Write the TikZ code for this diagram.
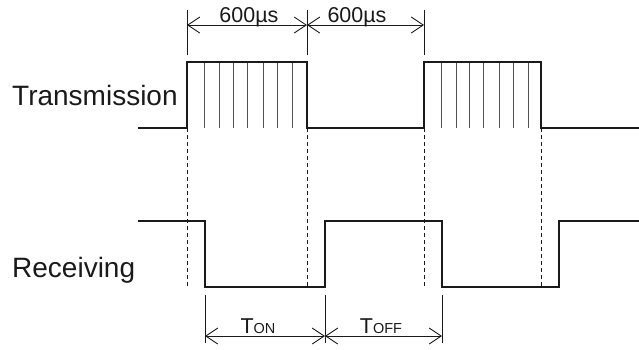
\documentclass[tikz,border=0pt]{standalone}
\usepackage{fontspec}
\setmainfont{Liberation Sans}
\usetikzlibrary{arrows.meta}
\definecolor{ink}{HTML}{1A1A1A}
\begin{document}
\begin{tikzpicture}[x=1pt,y=-1pt,
 sig/.style={line width=2pt, draw=ink, line join=miter},
 burst/.style={line width=0.9pt, draw=ink!75},
 guide/.style={line width=1pt, draw=ink, dash pattern=on 4pt off 3pt},
 ext/.style={line width=0.9pt, draw=ink},
 dimarrow/.style={line width=0.9pt, draw=ink, {Straight Barb[length=12pt,width=16pt]}-{Straight Barb[length=12pt,width=16pt]}},
 lbl/.style={font=\fontsize{28}{28}\selectfont, text=ink, anchor=base west, inner sep=0},
 dimlbl/.style={font=\fontsize{21.5}{21.5}\selectfont, text=ink, anchor=base, inner sep=0}]
\useasboundingbox (0,0) rectangle (639,349);
% labels
\node[lbl] (tx) at (12,105) {Transmission};
\node[lbl] (rx) at (12,277) {Receiving};
% dashed guides
\foreach \x in {187,307,424,541} \draw[guide] (\x,128) -- (\x,287);
% transmission bursts
\foreach \x in {204,219,233,247,263,277,292,441,456,469,483,499,513,528}
  \draw[burst] (\x,62) -- (\x,128);
% transmission waveform
\draw[sig] (138,128) -- (187,128) -- (187,62) -- (307,62) -- (307,128) -- (424,128) -- (424,62) -- (541,62) -- (541,128) -- (639,128);
% receiving waveform
\draw[sig] (138,221) -- (205,221) -- (205,287) -- (325,287) -- (325,221) -- (442,221) -- (442,287) -- (559,287) -- (559,221) -- (639,221);
% top dimensions
\foreach \x/\n in {187/a,307/b,424/c} {
  \coordinate (top\n) at (\x,10);
  \coordinate (mid\n) at (\x,25);
  \coordinate (bot\n) at (\x,55);
  \draw[ext] (top\n) -- (bot\n);
}
\draw[dimarrow] (mida) -- (midb);
\draw[dimarrow] (midb) -- (midc);
\node[dimlbl] (d1) at (249,22) {600µs};
\node[dimlbl] (d2) at (357,22) {600µs};
% bottom dimensions
\foreach \x/\n in {205/a,325/b,442/c} {
  \coordinate (btop\n) at (\x,295);
  \coordinate (bmid\n) at (\x,336);
  \coordinate (bbot\n) at (\x,343);
  \draw[ext] (btop\n) -- (bbot\n);
}
\draw[dimarrow] (bmida) -- (bmidb);
\draw[dimarrow] (bmidb) -- (bmidc);
\node[dimlbl] (ton) at (258,333) {T{\fontsize{14.5}{14.5}\selectfont ON}};
\node[dimlbl] (toff) at (381,333) {T{\fontsize{14.5}{14.5}\selectfont OFF}};
\end{tikzpicture}
\end{document}
